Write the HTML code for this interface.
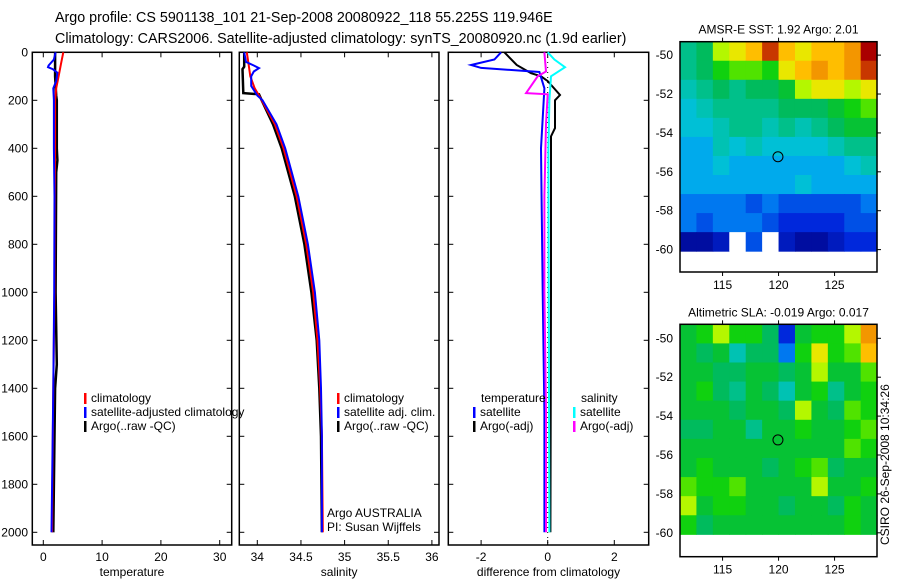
<!DOCTYPE html>
<html><head><meta charset="utf-8">
<style>
html,body{margin:0;padding:0;background:#fff;}
svg{display:block;font-family:"Liberation Sans",sans-serif;}
text{font-size:12px;fill:#000;}
.t{font-size:14.3px;}
</style></head>
<body>
<svg id="fig" width="900" height="580" viewBox="0 0 900 580">
<text class="t" x="55" y="22">Argo profile: CS 5901138_101 21-Sep-2008 20080922_118 55.225S 119.946E</text>
<text class="t" x="55" y="43">Climatology: CARS2006. Satellite-adjusted climatology: synTS_20080920.nc (1.9d earlier)</text>
<text x="0" y="0" transform="translate(889,545) rotate(-90)">CSIRO 26-Sep-2008 10:34:26</text>
<g id="p1"></g>
<g id="p2"></g>
<g id="p3"></g>
<g id="m1"></g>
<g id="m2"></g>
</svg>
<script>
// ---- data ----
const depthTicks = [0,200,400,600,800,1000,1200,1400,1600,1800,2000];
const tempTicks = [0,10,20,30];
const salTicks = [34,34.5,35,35.5,36];
const salTickLabels = ["34","34.5","35","35.5","36"];
const diffTicks = [-2,0,2];

const tClimD = [0,50,100,150,200,400,600,1000,1400,1800,2000];
const tClimV = [3.4,3.0,2.6,2.2,2.0,2.0,1.95,1.9,1.7,1.55,1.5];
const tSatD = [0,30,55,62,70,85,120,150,200,400,600,1000,1400,1800,2000];
const tSatV = [2.1,1.8,0.9,0.8,1.6,2.4,2.2,1.7,1.8,1.8,1.9,1.85,1.7,1.5,1.4];
const tArgoD = [0,100,180,200,400,450,500,1000,1300,1400,1800,2000];
const tArgoV = [2.0,2.0,2.2,2.3,2.3,2.4,2.2,2.1,2.3,2.0,1.8,1.7];

const sClimD = [0,50,100,150,200,300,400,600,800,1000,1200,1400,1600,2000];
const sClimV = [33.88,33.90,33.92,33.97,34.05,34.2,34.3,34.45,34.56,34.64,34.69,34.72,34.74,34.75];
const sSatD = [0,40,55,66,80,100,140,180,200,300,400,600,800,1000,1200,1400,1600,2000];
const sSatV = [33.85,33.87,33.96,34.02,33.96,33.93,33.93,34.0,34.06,34.22,34.32,34.47,34.58,34.66,34.71,34.73,34.74,34.74];
const sArgoD = [0,60,70,170,175,200,300,400,600,800,1000,1200,1400,1600,2000];
const sArgoV = [33.85,33.85,33.83,33.84,34.02,34.05,34.18,34.28,34.43,34.54,34.62,34.68,34.71,34.73,34.74];

const dTSatD = [0,30,53,65,82,150,400,1000,1500,2000];
const dTSatV = [-1.4,-1.6,-2.3,-2.0,-0.25,-0.1,-0.2,-0.15,-0.1,-0.1];
const dTArgoD = [0,53,87,100,120,178,200,316,350,1000,2000];
const dTArgoV = [-1.3,-0.93,-0.5,-0.2,0.0,0.37,0.22,0.22,0.1,0.1,0.08];
const dSArgoD = [0,80,100,170,175,300,600,1000,1500,2000];
const dSArgoV = [-0.1,-0.05,-0.3,-0.65,0.0,-0.05,-0.1,-0.1,-0.05,-0.05];
const dSSatD = [0,30,62,100,200,400,1000,2000];
const dSSatV = [0.0,0.2,0.52,0.1,0.05,0.02,0.03,0.05];

const lonTicks = [115,120,125];
const latTicks = [-50,-52,-54,-56,-58,-60];
const argoLon = 119.946, argoLat = -55.225;
const sstGrid = [
 [4.5,5,7,7.5,8,9.5,8,7.5,8,8,8.5,10],
 [4.5,5,6,6.5,6.5,6,7.5,8,8.5,8,8.5,9.5],
 [4,4.5,5,4.5,5,5,5.5,7,7.5,7.5,7,7.5],
 [3.5,4,4.5,4.5,4.5,4.5,5,5,5,5.5,6,6.5],
 [3.5,3.5,4,4.5,4.5,4,4.5,4,4.5,5,5.5,5.5],
 [3,3,4,3.5,4,3.5,3.5,3.5,3.5,4,4.5,4.5],
 [3,3,3.5,3,3,3,3,3,3,3,3.5,4],
 [3,3,3,3,3,3,3,3.5,3,3,3,3],
 [2.5,2.5,2.5,2.5,2,2.5,2,2,2,2,2,2.5],
 [2.5,2,2.5,2.5,2.5,2,1.5,1.5,1.5,1.5,2,2],
 [0.5,0.5,1,-1,2,-1,1,0.5,0.5,1,1.5,1.5]
];
const slaGrid = [
 [5.5,6,7,6,6,5,1.5,5.5,6,6,7,8.5],
 [5.5,5,5.5,4,5,5,2.5,6,7.5,6,6.5,8],
 [5.5,5.5,5,5,5.5,5.5,5,5.5,7,5.5,5.5,6.5],
 [5.5,6,5,4.5,5.5,5,4,5.5,6,4.5,5.5,6],
 [5.5,5.5,5.5,5,5.5,5.5,5,7,5.5,5,6.5,6],
 [5,5,5.5,5.5,4.5,5.5,5.5,6,5.5,5.5,6,6.5],
 [5.5,5.5,5.5,5.5,5.5,5.5,5.5,5.5,5.5,5.5,6.5,6],
 [5.5,6,5.5,5.5,5.5,5,5.5,6,6.5,5,5.5,5.5],
 [6.5,6,6,6.5,5.5,5.5,5.5,5.5,7,5.5,5.5,6],
 [7,5.5,6,6,5.5,5.5,5,5.5,5.5,5,6,5.5],
 [6,5,5.5,5.5,5.5,5.5,5.5,5.5,5.5,5.5,6,5.5]
];

const NS='http://www.w3.org/2000/svg';
function mk(parent,tag,attrs){const e=document.createElementNS(NS,tag);for(const k in attrs)e.setAttribute(k,attrs[k]);parent.appendChild(e);return e;}
function txt(parent,x,y,s,anchor){const e=mk(parent,'text',{x:x,y:y,'text-anchor':anchor||'start'});e.textContent=s;return e;}

const Y0=52.3, YS=0.24;
const yD = d => Y0 + d*YS;

function panel(g,L,R,xf,ticks,labels,xlabel,showY){
  const T=52.3,B=545;
  const b=mk(g,'rect',{x:L,y:T,width:R-L,height:B-T,fill:'none',stroke:'#000','stroke-width':1.5});
  
  
  depthTicks.forEach(d=>{
    const y=yD(d);
    mk(g,'line',{x1:L,x2:L+5,y1:y,y2:y,stroke:'#000'});
    mk(g,'line',{x1:R-5,x2:R,y1:y,y2:y,stroke:'#000'});
    if(showY){const t=txt(g,28,y+4,String(d),'end');
      
      }
  });
  ticks.forEach((v,i)=>{
    const x=xf(v);
    mk(g,'line',{x1:x,x2:x,y1:T,y2:T+5,stroke:'#000'});
    mk(g,'line',{x1:x,x2:x,y1:B-5,y2:B,stroke:'#000'});
    const t=txt(g,x,561,labels[i],'middle');
    
    
  });
  const xl=txt(g,(L+R)/2,576,xlabel,'middle');
  
  
}
function series(g,xf,D,V,color,name,w){
  const pts=D.map((d,i)=>xf(V[i]).toFixed(1)+','+yD(d).toFixed(1)).join(' ');
  const p=mk(g,'polyline',{points:pts,fill:'none',stroke:color,'stroke-width':w||2});
  
  
}
function legend(g,x,y,color,label,name){
  mk(g,'rect',{x:x,y:y-9,width:2.5,height:11,fill:color});
  const t=txt(g,x+7,y,label);
  
  
}

// Panel 1
const p1=document.getElementById('p1');
const xT = v => 43.3 + v*5.88;
panel(p1,32.3,231.7,xT,tempTicks,tempTicks.map(String),'temperature',true);
series(p1,xT,tArgoD,tArgoV,'#000','argo-temperature-line',2.5);
series(p1,xT,tClimD,tClimV,'#f00','climatology-temperature-line');
series(p1,xT,tSatD,tSatV,'#00f','satellite-temperature-line');
legend(p1,84,402,'#f00','climatology','legend-climatology');
legend(p1,84,416,'#00f','satellite-adjusted climatology','legend-satellite');
legend(p1,84,430,'#000','Argo(..raw -QC)','legend-argo');

// Panel 2
const p2=document.getElementById('p2');
const xS = v => 257.3 + (v-34)*87.3;
panel(p2,239.3,439,xS,salTicks,salTickLabels,'salinity',false);
series(p2,xS,sArgoD,sArgoV,'#000','argo-salinity-line',2.5);
series(p2,xS,sClimD,sClimV,'#f00','climatology-salinity-line');
series(p2,xS,sSatD,sSatV,'#00f','satellite-salinity-line');
legend(p2,337,402,'#f00','climatology','legend-climatology');
legend(p2,337,416,'#00f','satellite adj. clim.','legend-satellite');
legend(p2,337,430,'#000','Argo(..raw -QC)','legend-argo');
const a1=txt(p2,327,517,'Argo AUSTRALIA');


const a2=txt(p2,327,531,'PI: Susan Wijffels');



// Panel 3
const p3=document.getElementById('p3');
const xDf = v => 547.7 + v*33.3;
panel(p3,448.3,648.7,xDf,diffTicks,diffTicks.map(String),'difference from climatology',false);
const zl=mk(p3,'line',{x1:xDf(0),x2:xDf(0),y1:52,y2:545,stroke:'#000','stroke-dasharray':'1,4'});


series(p3,xDf,dTArgoD,dTArgoV,'#000','argo-temp-diff-line');
series(p3,xDf,dTSatD,dTSatV,'#00f','satellite-temp-diff-line');
series(p3,xDf,dSSatD,dSSatV,'#0ff','satellite-sal-diff-line');
series(p3,xDf,dSArgoD,dSArgoV,'#f0f','argo-sal-diff-line');
const lt=txt(p3,481,402,'temperature');


const ls=txt(p3,581,402,'salinity');


legend(p3,473,416,'#00f','satellite','legend-temp-satellite');
legend(p3,473,430,'#000','Argo(-adj)','legend-temp-argo');
legend(p3,573,416,'#0ff','satellite','legend-sal-satellite');
legend(p3,573,430,'#f0f','Argo(-adj)','legend-sal-argo');

// maps
const stops=[[0,[0,0,130]],[0.15,[0,40,220]],[0.25,[0,120,240]],[0.32,[0,190,235]],[0.42,[0,195,165]],[0.52,[0,185,75]],[0.62,[20,215,0]],[0.72,[220,255,0]],[0.8,[255,190,0]],[0.9,[230,110,0]],[1,[170,0,0]]];
function jet(v){if(v<0)return '#fff';v=Math.min(1,v);for(let i=1;i<stops.length;i++){if(v<=stops[i][0]){const a=stops[i-1],b=stops[i];const f=(v-a[0])/(b[0]-a[0]);const c=a[1].map((q,k)=>Math.round(q+(b[1][k]-q)*f));return 'rgb('+c.join(',')+')';}}return 'rgb(170,0,0)';}
function map(g,top,latTop,grid,title,boxBottom){
  const L=680,R=877,lonL=111.2,lonR=128.8;
  const xL = lon => L + (lon-lonL)*11.2;
  const yL = lat => top + (latTop-lat)*19.45;
  const latBot=-60.08;
  const nr=grid.length,nc=grid[0].length;
  const dLon=(lonR-lonL)/nc,dLat=(latTop-latBot)/nr;
  grid.forEach((row,i)=>row.forEach((v,j)=>{
    const x0=xL(lonL+j*dLon),x1=xL(lonL+(j+1)*dLon),y0=yL(latTop-i*dLat),y1=yL(latTop-(i+1)*dLat);
    const c=mk(g,'rect',{x:x0,y:y0,width:x1-x0+0.5,height:y1-y0+0.5,fill:jet(v/10)});
    
    
  }));
  const b=mk(g,'rect',{x:L,y:top,width:R-L,height:boxBottom-top,fill:'none',stroke:'#000','stroke-width':1.5});
  
  
  latTicks.forEach(la=>{const y=yL(la);
    mk(g,'line',{x1:R,x2:R+4,y1:y,y2:y,stroke:'#000'});
    const t=txt(g,L-7,y+4,String(la),'end');
    
    });
  lonTicks.forEach(lo=>{const x=xL(lo);
    mk(g,'line',{x1:x,x2:x,y1:top-4,y2:top,stroke:'#000'});
    mk(g,'line',{x1:x,x2:x,y1:boxBottom,y2:boxBottom+4,stroke:'#000'});
    const t=txt(g,x,boxBottom+17,String(lo),'middle');
    
    });
  const c=mk(g,'circle',{cx:xL(argoLon),cy:yL(argoLat),r:5,fill:'none',stroke:'#000','stroke-width':1});
  
  
  const t=txt(g,(L+R)/2,top-8,title,'middle');
  
  
}
map(document.getElementById('m1'),41.7,-49.31,sstGrid,'AMSR-E SST: 1.92 Argo: 2.01',272);
map(document.getElementById('m2'),324.3,-49.28,slaGrid,'Altimetric SLA: -0.019 Argo: 0.017',556.7);
</script>
</body></html>
